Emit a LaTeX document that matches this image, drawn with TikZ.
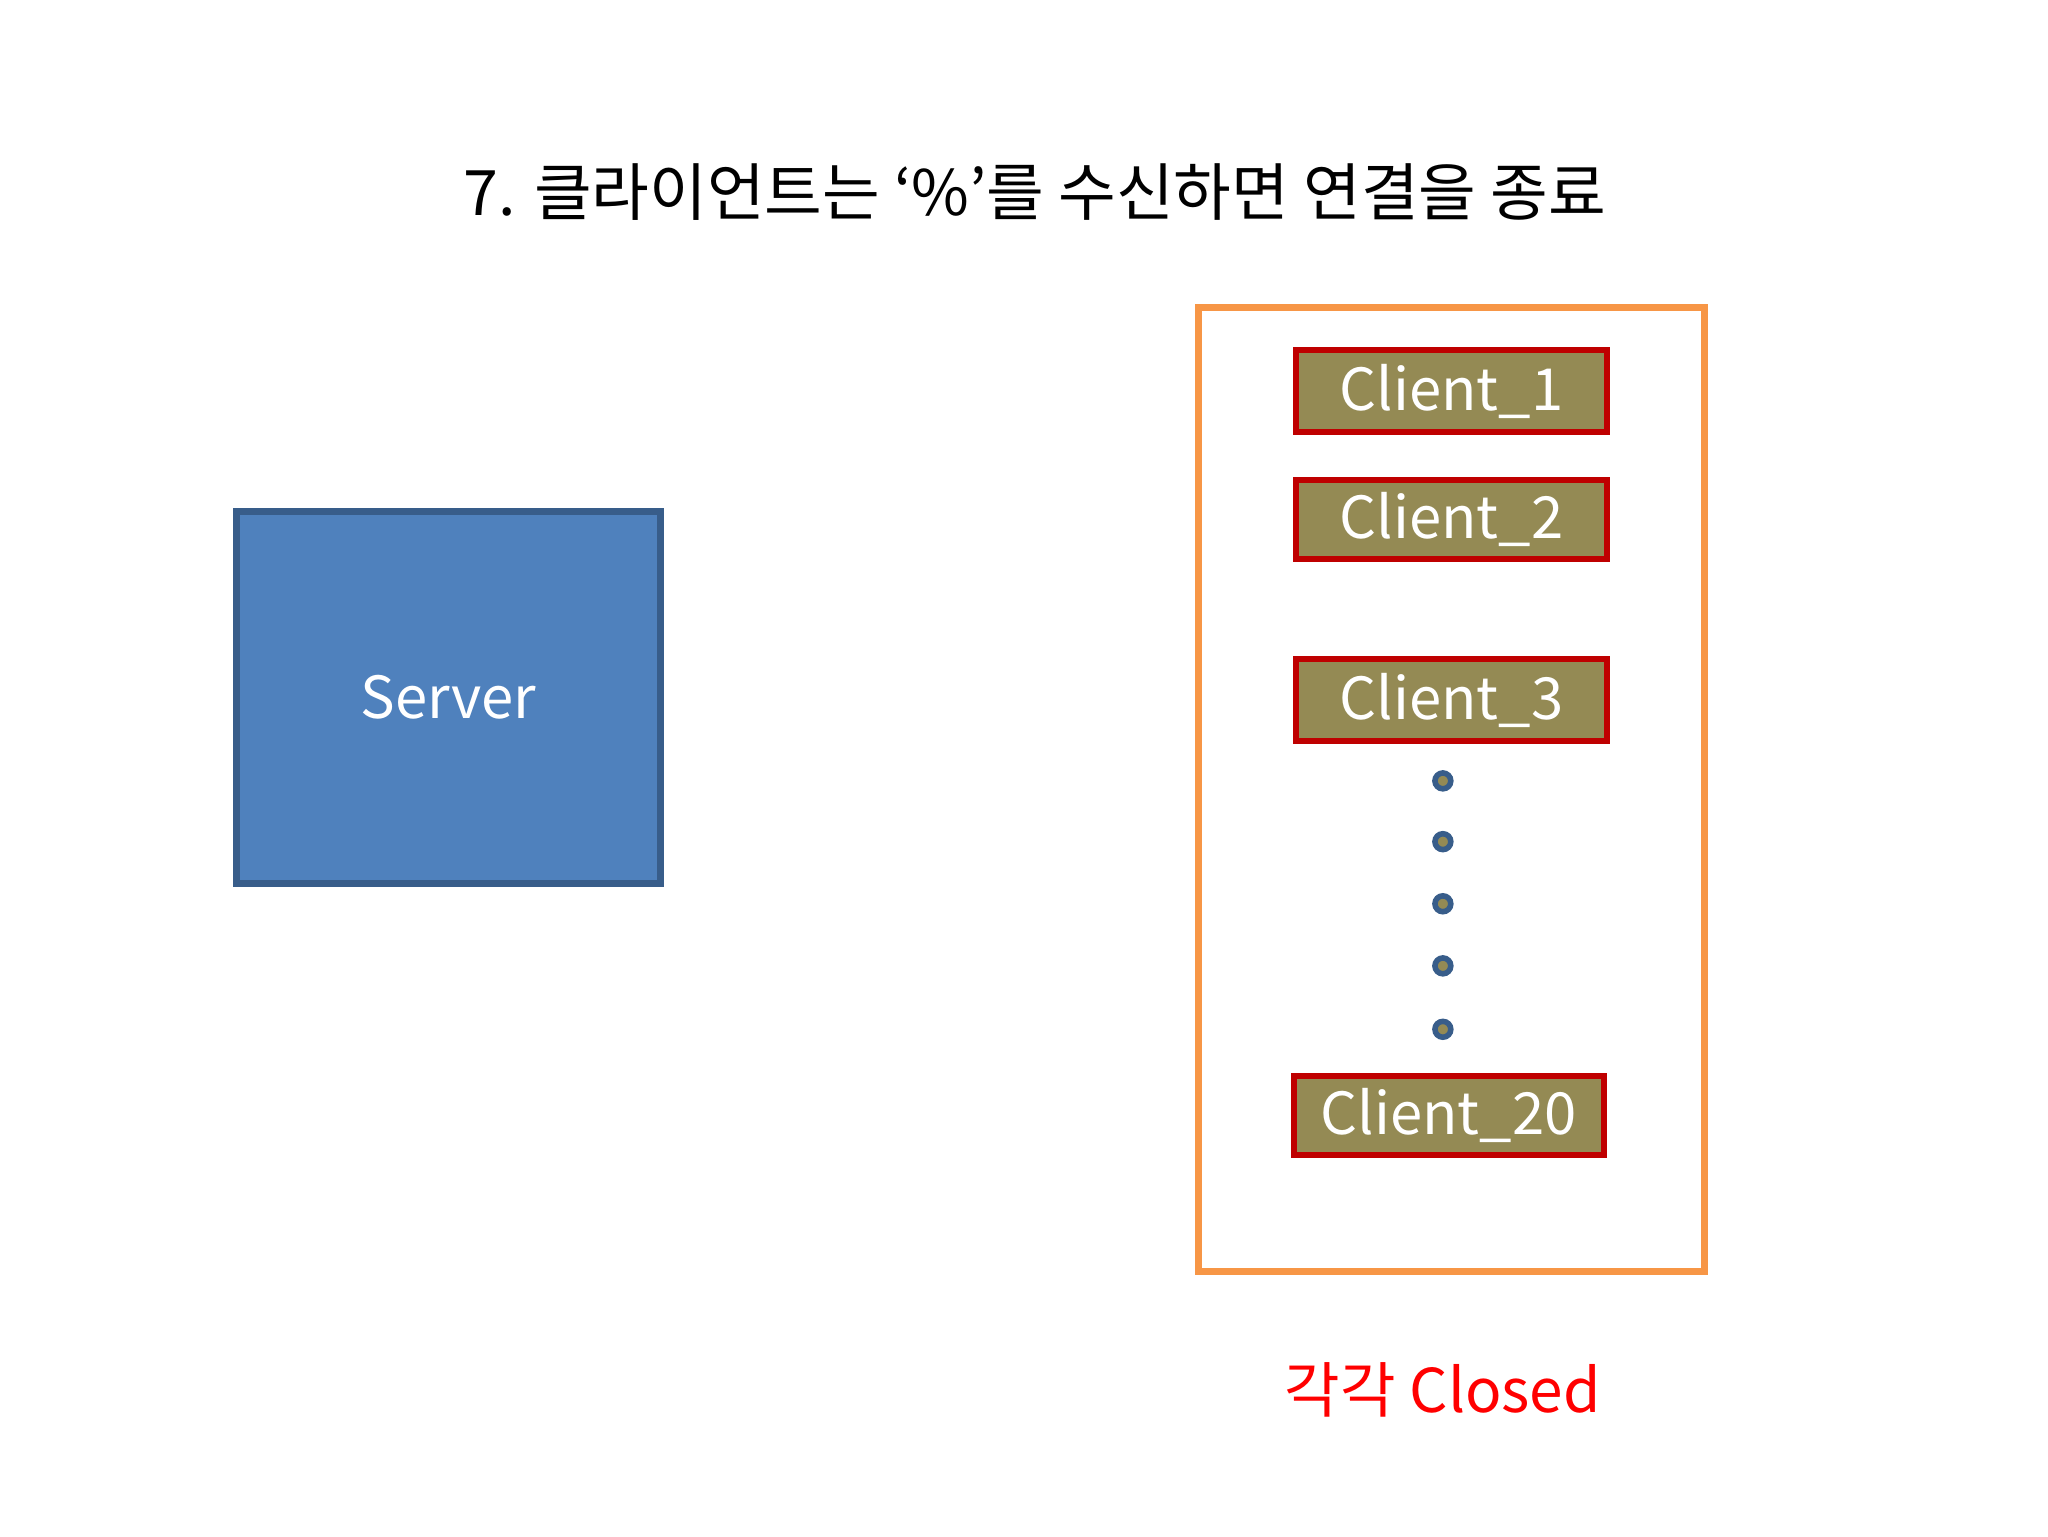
\documentclass[tikz,border=0pt]{standalone}
\usepackage{fontspec}
\setmainfont{Noto Sans CJK KR}
\begin{document}
\begin{tikzpicture}[x=0.1mm,y=-0.1mm,
  client/.style={draw=red!75!black,line width=1.3pt,fill=olive1,text=white,font=\fontsize{12.5}{15}\selectfont,inner sep=0pt},
  dot/.style={circle,draw=blue2,line width=1.2pt,fill=olive1,minimum size=1.2mm,inner sep=0pt}]
\definecolor{olive1}{HTML}{948A54}
\definecolor{blue1}{HTML}{4F81BD}
\definecolor{blue2}{HTML}{385D8A}
\definecolor{orange1}{HTML}{F79646}
\useasboundingbox (0,0) rectangle (1550,1163);
\node (title) at (783,145) {\fontsize{13.5}{16}\selectfont 7. 클라이언트는 ‘\%’를 수신하면 연결을 종료};
\node[draw=blue2,line width=1.5pt,fill=blue1,text=white,minimum width=32.1mm,minimum height=28.2mm,font=\fontsize{12.5}{15}\selectfont] (server) at (339.5,528) {Server};
\node[draw=orange1,line width=1.5pt,minimum width=38.3mm,minimum height=72.9mm] (group) at (1098.5,597.5) {};
\node[client,minimum width=23.5mm,minimum height=6.2mm] (c1) at (1098.5,296) {Client\_1};
\node[client,minimum width=23.5mm,minimum height=6mm] (c2) at (1098.5,393) {Client\_2};
\node[client,minimum width=23.5mm,minimum height=6.2mm] (c3) at (1098.5,530) {Client\_3};
\node[client,minimum width=23.5mm,minimum height=6mm] (c20) at (1096.5,844) {Client\_20};
\node[dot] (d1) at (1092,591) {};
\node[dot] (d2) at (1092,637) {};
\node[dot] (d3) at (1092,684) {};
\node[dot] (d4) at (1092,731) {};
\node[dot] (d5) at (1092,779) {};
\node[text=red,font=\fontsize{13}{16}\selectfont] (closed) at (1092,1052) {각각 Closed};
\end{tikzpicture}
\end{document}
